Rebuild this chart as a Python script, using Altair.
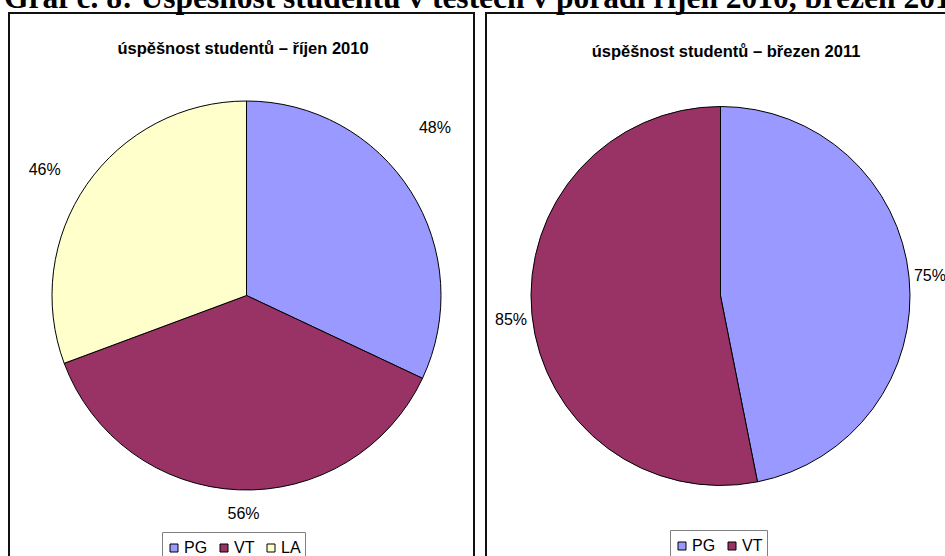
import altair as alt
import pandas as pd

main_title = "Graf č. 8: Úspěšnost studentů v testech v pořadí říjen 2010, březen 2011"
left_title = "úspěšnost studentů – říjen 2010"
right_title = "úspěšnost studentů – březen 2011"

left_cats = ["PG", "VT", "LA"]
left_vals = [48, 56, 46]
right_cats = ["PG", "VT"]
right_vals = [75, 85]
palette = {"PG": "#9999FF", "VT": "#993366", "LA": "#FFFFCC"}

SANS = "Liberation Sans"
SERIF = "Liberation Serif"


def pie_df(cats, vals):
    return pd.DataFrame({
        "cat": cats,
        "value": vals,
        "order": list(range(len(cats))),
        "label": [f"{v}%" for v in vals],
    })


def pie_layers(cats, vals, cx, cy, r, label_r, nudges, lx, ly):
    df = pie_df(cats, vals)
    base = alt.Chart(df).encode(
        theta=alt.Theta("value:Q", stack=True),
        order=alt.Order("order:Q"),
        x=alt.value(cx),
        y=alt.value(cy),
    )
    arcs = base.mark_arc(outerRadius=r, stroke="black", strokeWidth=1).encode(
        color=alt.Color(
            "cat:N",
            scale=alt.Scale(domain=cats, range=[palette[c] for c in cats]),
            legend=alt.Legend(
                title=" ",
                titleFontSize=3,
                titlePadding=1,
                orient="none",
                legendX=lx,
                legendY=ly,
                direction="horizontal",
                symbolType="square",
                symbolSize=64,
                symbolStrokeColor="black",
                symbolStrokeWidth=1,
                labelFont=SANS,
                labelFontSize=16,
                labelColor="black",
                labelOffset=2,
                columnPadding=8,
                padding=4,
                strokeColor="#808080",
                fillColor="white",
            ),
        )
    )
    layers = [arcs]
    for c, (ddx, ddy) in zip(cats, nudges):
        layers.append(
            base.mark_text(radius=label_r, font=SANS, fontSize=16, color="black",
                           align="center", baseline="middle", dx=ddx, dy=ddy).encode(
                text=alt.condition(f"datum.cat == '{c}'", "label:N", alt.value(""))
            )
        )
    return layers


frames = alt.Chart(pd.DataFrame({"p": ["L", "R"], "x": [9, 486], "x2": [474, 1000]})).mark_rect(
    fill="white", stroke="#111111", strokeWidth=2
).encode(
    x=alt.X("x:Q", scale=None),
    x2="x2:Q",
    y=alt.value(13),
    y2=alt.value(620),
)

title_main = alt.Chart(pd.DataFrame({"t": [main_title]})).mark_text(
    font=SERIF, fontSize=31.5, fontWeight="bold", align="left", baseline="alphabetic", color="black"
).encode(text="t:N", x=alt.value(4), y=alt.value(8))

title_left = alt.Chart(pd.DataFrame({"t": [left_title]})).mark_text(
    font=SANS, fontSize=16.5, fontWeight="bold", align="center", baseline="middle", color="black"
).encode(text="t:N", x=alt.value(243), y=alt.value(49))

title_right = alt.Chart(pd.DataFrame({"t": [right_title]})).mark_text(
    font=SANS, fontSize=16.5, fontWeight="bold", align="center", baseline="middle", color="black"
).encode(text="t:N", x=alt.value(726), y=alt.value(52))

left = pie_layers(left_cats, left_vals, 246.5, 295.5, 194.5, 225,
                  [(-1.5, -47), (6.5, -6.5), (-17, 3)], 162, 532)
right = pie_layers(right_cats, right_vals, 720.5, 296, 189.5, 212,
                   [(-1.5, 1), (1.5, 3)], 670, 530)

chart = alt.layer(frames, title_main, title_left, title_right, *left, *right).resolve_scale(
    theta="independent", color="independent"
).properties(
    width=945, height=556, padding=0, autosize=alt.AutoSizeParams(type="none")
).configure_view(strokeWidth=0)

chart.save("out.html", embed_options={"renderer": "svg", "actions": False})
